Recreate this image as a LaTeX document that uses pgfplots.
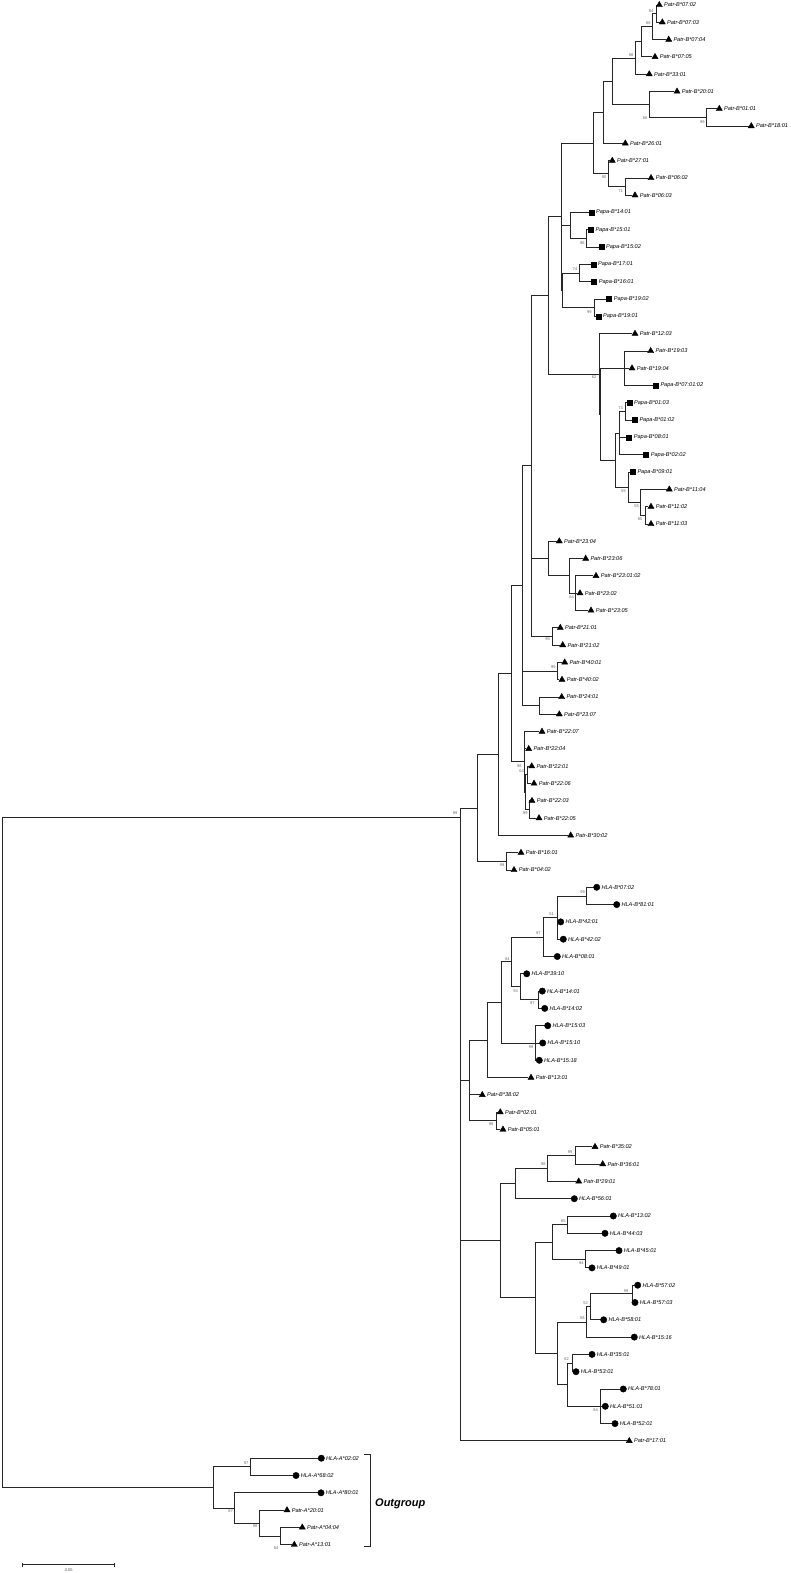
\documentclass[border=0pt]{standalone}
\usepackage{pgfplots}
\pgfplotsset{compat=1.18}
\usepackage{pgfplotstable}
\usepackage{fontspec}
\setmainfont{Liberation Sans}

% horizontal branches: from x to x2 at height y (y in leaf rows)
\pgfplotstableread{
x y x2
652.7 0.5 656
641.7 1.25 652.7
635 2.125 641.7
612 3.0625 635
649 6.5 706.7
612 5.75 649
603.3 4.406 612
593.3 6.203 603.3
608.3 10.5 625
593.3 9.75 608.3
561 7.977 593.3
570.7 13.5 586.7
561 12.75 570.7
562.7 15.5 579.3
562.7 17.5 594
561 16.5 562.7
548.7 12.24 561
600.3 21 624
619.3 23.5 625.3
615 24.75 619.3
640.7 29.5 645
628.3 28.75 640.7
615 27.875 628.3
600.3 26.3125 615
599 23.656 600.3
548.7 21.328 599
531.7 16.78 548.7
569.3 34 575
548.3 33 569.3
531.7 32 548.3
531.7 36.5 552.3
522.7 26.64 531.7
522.7 38.5 557.7
522.7 40.5 539
511.7 33.57 522.7
525.7 44.5 527.3
525.7 46.5 529.3
524.3 45.5 525.7
511.7 43.75 524.3
498.7 38.66 511.7
477.7 43.33 498.7
477.7 49.5 506.7
460.7 46.415 477.7
557.3 51.5 586.7
543.3 52.75 557.3
511.7 53.875 543.3
520 57.5 538.3
511.7 56.75 520
501 55.31 511.7
501 60 535.7
487.7 57.66 501
469.3 59.83 487.7
469.3 64.5 496.7
460.7 62.17 469.3
547.7 66.5 575
515 67.25 547.7
500.7 68.125 515
552.3 70.5 567
552.3 72.5 585.7
535.3 71.5 552.3
590.7 74.5 632.7
586.7 75.25 590.7
557.7 76.125 586.7
567 78.5 572.7
567 81 600.3
557.7 79.75 567
535.3 77.94 557.7
500.7 74.72 535.3
460.7 71.42 500.7
2 46.94 460.7
213.3 84.5 250.7
259.3 88.5 280
234.3 87.75 259.3
213.3 86.875 234.3
2 85.69 213.3
656 0 656.3
656 1 659.3
652.7 2 665.7
641.7 3 652
635 4 646.3
649 5 674
706.7 6 716.3
706.7 7 748.3
603.3 8 622.3
608.3 9 609.3
625 10 648
625 11 632
570.7 12 588.3
586.7 13 587.7
586.7 14 598.3
579.3 15 590.3
579.3 16 591
594 17 606
594 18 595.3
599 19 632
624 20 647.7
600.3 21 629
624 22 652.7
625.3 23 626.3
625.3 24 631.7
619.3 25 626
619.3 26 643
628.3 27 629.7
640.7 28 666.3
645 29 648
645 30 648
548.3 31 556.3
569.3 32 582.7
575 33 593
575 34 577
575 35 588
552.3 36 557.3
552.3 37 559.7
557.7 38 561.7
557.7 39 559
539 40 558.7
539 41 556.3
524.3 42 539
524.3 43 525.7
527.3 44 528.7
527.3 45 531
529.3 46 529.6
529.3 47 536
498.7 48 567.7
506.7 49 518
506.7 50 511
586.7 51 593.7
586.7 52 613.7
557.3 53 557.7
557.3 54 560.3
543.3 55 554.3
520 56 523.7
538.3 57 539.3
538.3 58 541.7
535.7 59 544.7
535.7 60 539.7
535.7 61 536.3
487.7 62 528
469.3 63 479.3
496.7 64 497.3
496.7 65 500
575 66 592
575 67 599.7
547.7 68 575.7
515 69 571.3
567 70 610.3
567 71 602
585.7 72 616
585.7 73 589
632.7 74 634.7
632.7 75 633
590.7 76 600.7
586.7 77 631.3
572.7 78 589
572.7 79 573
600.3 80 620.3
600.3 81 602.3
600.3 82 612
460.7 83 626.3
250.7 84 318.3
250.7 85 293
234.3 86 318
259.3 87 284
280 88 299.3
280 89 291.3
}\hbranch

% vertical branches: at x, from y to y2
\pgfplotstableread{
x y y2
656 0 1
652.7 0.5 2
641.7 1.25 3
635 2.125 4
706.7 6 7
649 5 6.5
612 3.0625 5.75
603.3 4.406 8
625 10 11
608.3 9 10.5
593.3 6.203 9.75
586.7 13 14
570.7 12 13.5
579.3 15 16
594 17 18
562.7 15.5 17.5
561 7.977 16.5
624 20 22
625.3 23 24
619.3 23.5 26
645 29 30
640.7 28 29.5
628.3 27 28.75
615 24.75 27.875
600.3 21 26.3125
599 19 23.656
548.7 12.24 21.328
575 33 35
569.3 32 34
548.3 31 33
552.3 36 37
531.7 16.78 36.5
557.7 38 39
539 40 41
522.7 26.64 40.5
527.3 44 45
529.3 46 47
525.7 44.5 46.5
524.3 42 45.5
511.7 33.57 43.75
498.7 38.66 48
506.7 49 50
477.7 43.33 49.5
586.7 51 52
557.3 51.5 54
543.3 52.75 55
538.3 57 58
520 56 57.5
511.7 53.875 56.75
535.7 59 61
501 55.31 60
487.7 57.66 62
496.7 64 65
469.3 59.83 64.5
575 66 67
547.7 66.5 68
515 67.25 69
567 70 71
585.7 72 73
552.3 70.5 72.5
632.7 74 75
590.7 74.5 76
586.7 75.25 77
572.7 78 79
600.3 80 82
567 78.5 81
557.7 76.125 79.75
535.3 71.5 77.94
500.7 68.125 74.72
460.7 46.415 83
250.7 84 85
280 88 89
259.3 87 88.5
234.3 86 87.75
213.3 84.5 86.875
2 46.94 85.69
}\vbranch

\pgfplotstableread{
x y label
659.3 0 Patr-B*07:02
662.3 1 Patr-B*07:03
668.7 2 Patr-B*07:04
655 3 Patr-B*07:05
649.3 4 Patr-B*33:01
677 5 Patr-B*20:01
719.3 6 Patr-B*01:01
751.3 7 Patr-B*18:01
625.3 8 Patr-B*26:01
612.3 9 Patr-B*27:01
651 10 Patr-B*06:02
635 11 Patr-B*06:03
635 19 Patr-B*12:03
650.7 20 Patr-B*19:03
632 21 Patr-B*19:04
669.3 28 Patr-B*11:04
651 29 Patr-B*11:02
651 30 Patr-B*11:03
559.3 31 Patr-B*23:04
585.7 32 Patr-B*23:06
596 33 Patr-B*23:01:02
580 34 Patr-B*23:02
591 35 Patr-B*23:05
560.3 36 Patr-B*21:01
562.7 37 Patr-B*21:02
564.7 38 Patr-B*40:01
562 39 Patr-B*40:02
561.7 40 Patr-B*24:01
559.3 41 Patr-B*23:07
542 42 Patr-B*22:07
528.7 43 Patr-B*22:04
531.7 44 Patr-B*22:01
534 45 Patr-B*22:06
532 46 Patr-B*22:03
539 47 Patr-B*22:05
570.7 48 Patr-B*30:02
521 49 Patr-B*16:01
514 50 Patr-B*04:02
531 62 Patr-B*13:01
482.3 63 Patr-B*38:02
500.3 64 Patr-B*02:01
503 65 Patr-B*05:01
595 66 Patr-B*35:02
602.7 67 Patr-B*36:01
578.7 68 Patr-B*29:01
629.3 83 Patr-B*17:01
287 87 Patr-A*20:01
302.3 88 Patr-A*04:04
294.3 89 Patr-A*13:01
}\tri

\pgfplotstableread{
x y label
591.3 12 Papa-B*14:01
590.7 13 Papa-B*15:01
601.3 14 Papa-B*15:02
593.3 15 Papa-B*17:01
594 16 Papa-B*16:01
609 17 Papa-B*19:02
598.3 18 Papa-B*19:01
655.7 22 Papa-B*07:01:02
629.3 23 Papa-B*01:03
634.7 24 Papa-B*01:02
629 25 Papa-B*08:01
646 26 Papa-B*02:02
632.7 27 Papa-B*09:01
}\sq

\pgfplotstableread{
x y label
596.7 51 HLA-B*07:02
616.7 52 HLA-B*81:01
560.7 53 HLA-B*42:01
563.3 54 HLA-B*42:02
557.3 55 HLA-B*08:01
526.7 56 HLA-B*39:10
542.3 57 HLA-B*14:01
544.7 58 HLA-B*14:02
547.7 59 HLA-B*15:03
542.7 60 HLA-B*15:10
539.3 61 HLA-B*15:18
574.3 69 HLA-B*56:01
613.3 70 HLA-B*13:02
605 71 HLA-B*44:03
619 72 HLA-B*45:01
592 73 HLA-B*49:01
637.7 74 HLA-B*57:02
635 75 HLA-B*57:03
603.7 76 HLA-B*58:01
634.3 77 HLA-B*15:16
592 78 HLA-B*35:01
576 79 HLA-B*53:01
623.3 80 HLA-B*78:01
605.3 81 HLA-B*51:01
615 82 HLA-B*52:01
321.3 84 HLA-A*02:02
296 85 HLA-A*68:02
321 86 HLA-A*80:01
}\circ

% bootstrap values (x, y in pixels of the figure)
\pgfplotstableread{
x y t
651 11 84
648.3 23.3 88
631 55 98
645 118.3 80
702.3 121.7 99
604 177.3 90
620.7 190.7 71
582.3 242.7 96
575 269.3 74
589.3 311.7 99
594 377.3 62
620.7 408.3 73
623.3 490.7 59
636.7 506 55
640 519.3 85
571.7 596.7 64
547.7 639.3 95
553.3 667.3 99
519.3 765.7 98
521.7 771 64
525.3 813.3 99
455 813.5 99
502 865 99
582.7 891.7 99
551.7 914 51
538.3 932.7 97
507.3 958.7 84
515.7 990.7 94
532.3 1003.3 97
531 1047.3 99
491 1124.3 98
570 1152.3 99
543.3 1164.3 98
563.3 1220.7 65
581.3 1262.7 94
626 1290.7 99
585.7 1302.7 52
582.3 1318.3 58
566.7 1359 62
595.7 1410 84
246 1462.7 97
230.7 1511 87
255 1526 98
276 1548.3 84
}\boot

\begin{document}
\begin{tikzpicture}
\begin{axis}[
  at={(0pt,0pt)}, anchor=south west,
  width=790pt, height=1573pt, scale only axis,
  xmin=0, xmax=790, ymin=-0.289, ymax=90.636,
  y dir=reverse, hide axis, clip=false,
  leaf/.style={only marks, nodes near coords, point meta=explicit symbolic,
    every node near coord/.append style={anchor=west, inner sep=0pt, xshift=4.6pt,
      font=\fontsize{5.6}{6}\selectfont\itshape, text=black}},
]
\addplot[black!85, line width=0.85pt, line cap=rect,
  quiver={u={\thisrow{x2}-\thisrow{x}}, v=0}] table[x=x, y=y] {\hbranch};
\addplot[black!85, line width=0.85pt, line cap=rect,
  quiver={u=0, v={\thisrow{y2}-\thisrow{y}}}] table[x=x, y=y] {\vbranch};

\addplot[leaf, mark=triangle*, mark size=3.5pt, black] table[x=x, y=y, meta=label] {\tri};
\addplot[leaf, mark=square*, mark size=2.5pt, black] table[x=x, y=y, meta=label] {\sq};
\addplot[leaf, mark=*, mark size=3.2pt, black] table[x=x, y=y, meta=label] {\circ};

\addplot[draw=none, mark=none, nodes near coords, point meta=explicit symbolic,
  y filter/.expression={(y-5)/17.3},
  every node near coord/.append style={anchor=center, inner sep=0pt,
    font=\fontsize{4}{4}\selectfont, text=black!60}]
  table[x=x, y=y, meta=t] {\boot};

% outgroup bracket
\addplot[black!85, line width=0.85pt] coordinates {(364.3,83.80) (370.7,83.80) (370.7,89.12) (364.3,89.12)};
\node[anchor=west, inner sep=0pt, font=\fontsize{11}{12}\selectfont\bfseries\itshape] at (axis cs:375,86.65) {Outgroup};

% scale bar
\addplot[black!85, line width=0.85pt] coordinates {(22.7,90.16) (114.3,90.16)};
\addplot[black!85, line width=0.7pt] coordinates {(22.7,90.06) (22.7,90.26)};
\addplot[black!85, line width=0.7pt] coordinates {(114.3,90.06) (114.3,90.26)};
\node[inner sep=0pt, font=\fontsize{4}{4}\selectfont, text=black!70] at (axis cs:68.7,90.47) {0.05};
\end{axis}
\pgfresetboundingbox
\path (0pt,0pt) rectangle (790pt,1573pt);
\end{tikzpicture}
\end{document}
